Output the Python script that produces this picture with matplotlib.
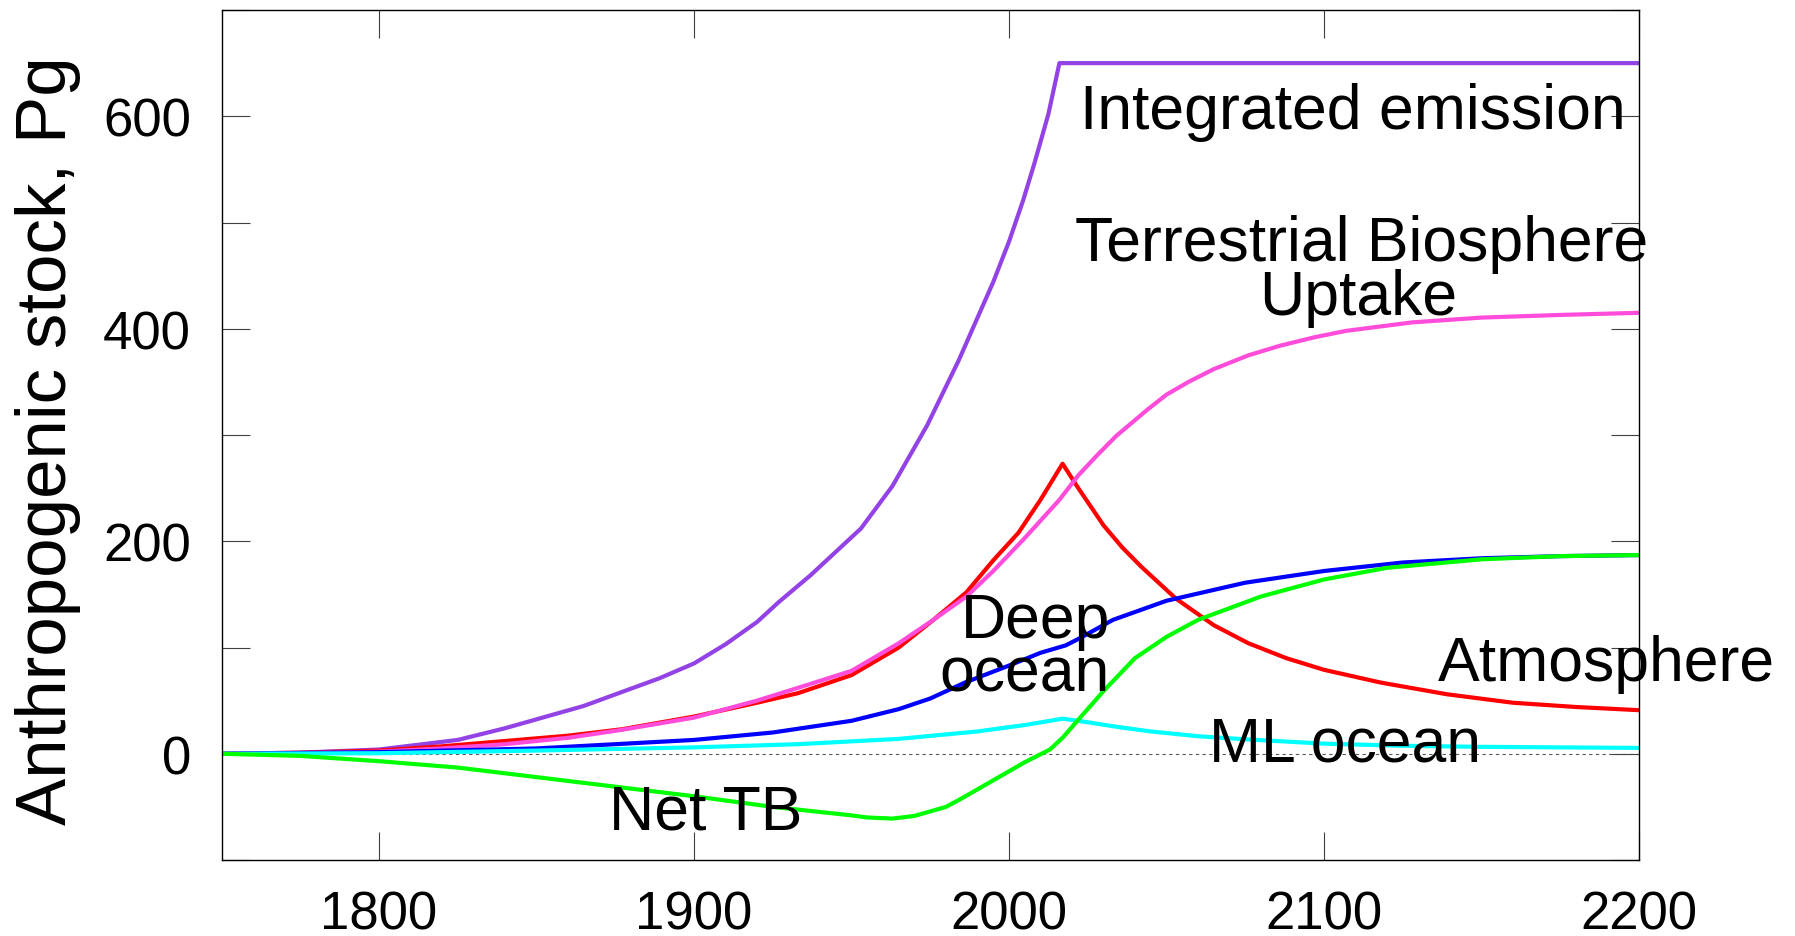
import matplotlib
matplotlib.use("Agg")
import matplotlib.pyplot as plt

plt.rcParams['font.family'] = ['Liberation Sans', 'DejaVu Sans']

# anthropogenic carbon stocks (Pg) by year
emis_yr = [1750, 1775, 1800, 1825, 1840, 1865, 1889, 1900, 1910, 1920, 1927, 1937, 1945,
           1953, 1963, 1974, 1984, 1995, 2000, 2004.5, 2008, 2012.5, 2016, 2200]
emis = [0, 1, 4, 13, 24, 45, 71, 85, 103, 124, 143, 168, 190,
        212, 252, 309, 370, 444, 482, 521, 555, 602, 650, 650]

atm_yr = [1750, 1775, 1800, 1820, 1840, 1860, 1877, 1900, 1920, 1933, 1950, 1965, 1976,
          1986.5, 1995, 2003, 2010, 2017, 2022, 2030, 2036, 2042, 2053, 2065, 2076, 2088,
          2100, 2118, 2139, 2160, 2180, 2200]
atm = [0, 1, 3, 7, 12, 17, 23, 35, 48, 57, 74, 100, 126,
       152, 182, 208, 239, 273, 250, 215, 194, 176, 146, 121, 104, 90,
       79, 67, 56, 48, 44, 41]

tb_yr = [1750, 1775, 1800, 1820, 1840, 1860, 1876, 1900, 1920, 1933, 1950, 1965, 1975,
         1986.5, 1995, 2005, 2016, 2022, 2028, 2034, 2044, 2050, 2057, 2065, 2076, 2086,
         2097, 2107, 2128, 2150, 2175, 2200]
tb = [0, 0.5, 2, 5, 9, 15, 22, 34, 50, 62, 78, 104, 124,
      148, 172, 203, 239, 262, 281, 299, 324, 338, 350, 362, 375, 384,
      392, 398, 406, 410.5, 413, 415]

deep_yr = [1750, 1800, 1850, 1900, 1925, 1950, 1965, 1975, 1986, 2000, 2010, 2018, 2022,
           2033, 2050, 2075, 2100, 2125, 2150, 2175, 2200]
deep = [0, 1.5, 5, 13, 20, 31, 42, 52, 67, 83, 95, 102, 108,
        126, 144, 161, 172, 180, 184, 186, 187]

ml_yr = [1750, 1800, 1850, 1900, 1933, 1965, 1990, 2005, 2017, 2022, 2035, 2045, 2060,
         2075, 2100, 2125, 2150, 2200]
ml = [0, 0.5, 3, 6, 9, 14, 21, 27, 33, 31, 25, 21, 16.5,
      13.6, 9.5, 7.5, 6.5, 5.5]

ntb_yr = [1750, 1775, 1800, 1825, 1850, 1875, 1900, 1925, 1950, 1955, 1963, 1970, 1980,
          1985, 1995, 2005, 2013, 2017, 2022, 2030, 2040, 2050, 2060, 2080, 2100, 2120,
          2150, 2175, 2200]
ntb = [0, -2, -7, -13, -22, -31, -40, -50, -58, -60, -61, -58.5, -50,
       -42, -25, -8, 4, 15, 32, 59, 90, 110, 126, 148, 164, 175,
       183, 186, 187]

W, H = 1795, 937
fig = plt.figure(figsize=(W / 100, H / 100), dpi=100)
ax = fig.add_axes([221.5 / W, (H - 861) / H, (1639 - 221.5) / W, (861 - 11) / H])

lw = 3.0
ax.axhline(0, color='0.35', lw=0.8, ls=(0, (3, 3)), zorder=1)
ax.plot(emis_yr, emis, color='#9342E6', lw=lw)
ax.plot(atm_yr, atm, color='#FF0000', lw=lw)
ax.plot(tb_yr, tb, color='#FF4CDB', lw=lw)
ax.plot(deep_yr, deep, color='#0000FF', lw=lw)
ax.plot(ml_yr, ml, color='#00FFFF', lw=lw)
ax.plot(ntb_yr, ntb, color='#00FF00', lw=lw)

ax.set_xlim(1750, 2200)
ax.set_ylim(-100, 700)
ax.set_xticks([1800, 1900, 2000, 2100, 2200])
ax.set_yticks([0, 200, 400, 600])
ax.set_yticks([-100, 100, 300, 500, 700], minor=True)
ax.tick_params(which='both', direction='in', top=True, right=True,
               length=20, width=0.8, color='0.25')
ax.tick_params(axis='x', labelsize=38, pad=21)
ax.tick_params(axis='y', labelsize=38, pad=22)
for s in ax.spines.values():
    s.set_linewidth(1.0)

fig.text(48 / W, 1 - 441 / H, 'Anthropogenic stock, Pg', rotation=90,
         ha='center', va='center', fontsize=51)

fs = 45
ax.text(2109, 589, 'Integrated emission', ha='center', va='baseline', fontsize=fs)
ax.text(2112, 465, 'Terrestrial Biosphere', ha='center', va='baseline', fontsize=fs)
ax.text(2111, 413.5, 'Uptake', ha='center', va='baseline', fontsize=fs)
ax.text(2032, 110, 'Deep', ha='right', va='baseline', fontsize=fs)
ax.text(2032, 59.5, 'ocean', ha='right', va='baseline', fontsize=fs)
ax.text(2189.6, 69.5, 'Atmosphere', ha='center', va='baseline', fontsize=fs)
ax.text(2106.8, -6.5, 'ML ocean', ha='center', va='baseline', fontsize=fs)
ax.text(1903.7, -70, 'Net TB', ha='center', va='baseline', fontsize=fs)

fig.savefig('out.png', dpi=100)
